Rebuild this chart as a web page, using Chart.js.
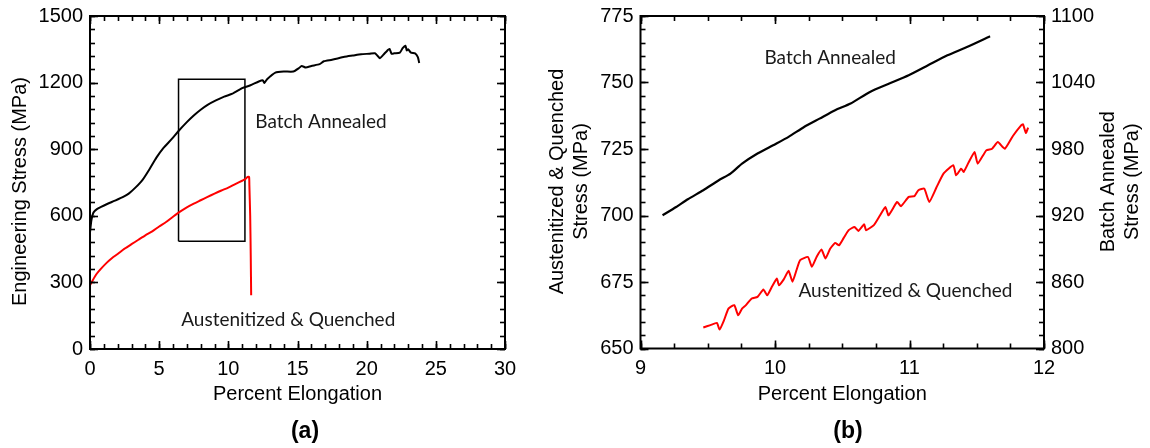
<!DOCTYPE html>
<html>
<head>
<meta charset="utf-8">
<script src="https://cdn.jsdelivr.net/npm/chart.js@4.4.1/dist/chart.umd.min.js"></script>
<style>
  body { margin: 0; background: #fff; width: 1150px; height: 448px; overflow: hidden; position: relative; }
  canvas { position: absolute; top: 0; }
  #chartA { left: 0; }
  #chartB { left: 540px; }
  .panel { position: absolute; top: 430px; transform: translate(-50%, -50%); font: bold 23px "Liberation Sans", Arial, sans-serif; color: #000; }
</style>
</head>
<body>
<canvas id="chartA" width="540" height="448"></canvas>
<canvas id="chartB" width="610" height="448"></canvas>
<div class="panel" style="left: 305px;">(a)</div>
<div class="panel" style="left: 848px;">(b)</div>
<script>
'use strict';

// ---- panel (a): full curves ----
let baStrainA = [0, 0.1, 0.25, 0.5, 0.8, 1.2, 1.8, 2.4, 2.8, 3.3, 3.8, 4.3, 4.8, 5.3, 5.9, 6.4, 7.0, 7.5, 8.0, 8.5,
  9.1, 9.7, 10.3, 11.0, 11.6, 12.2, 12.5, 12.6, 12.8, 13.4, 14.0, 14.7, 15.1, 15.3, 15.6, 16.0, 16.6, 16.9, 17.5,
  18.4, 19.0, 19.6, 20.2, 20.6, 20.8, 20.95, 21.2, 21.5, 21.65, 21.8, 22.0, 22.4, 22.6, 22.8, 22.9, 23.0, 23.2,
  23.5, 23.7, 23.8];
let baStressA = [525, 580, 615, 630, 640, 652, 668, 685, 700, 728, 762, 810, 862, 905, 945, 982, 1022, 1052, 1078, 1100,
  1120, 1137, 1150, 1175, 1188, 1205, 1210, 1198, 1215, 1245, 1250, 1250, 1265, 1275, 1268, 1275, 1283, 1296, 1303,
  1316, 1322, 1328, 1330, 1332, 1320, 1310, 1325, 1345, 1352, 1330, 1332, 1335, 1355, 1366, 1345, 1350, 1335,
  1332, 1315, 1288];

let aqStrainA = [0, 0.2, 0.5, 0.8, 1.2, 1.6, 2.0, 2.5, 3.0, 3.5, 4.0, 4.5, 5.0, 5.5, 6.0, 6.4, 7.0, 7.5, 8.0, 8.5,
  9.0, 9.5, 10.0, 10.5, 11.0, 11.2, 11.4, 11.5, 11.52, 11.58, 11.62, 11.65];
let aqStressA = [287, 310, 340, 362, 388, 410, 428, 452, 472, 492, 512, 530, 552, 572, 596, 614, 638, 655, 670, 685,
  700, 714, 727, 743, 758, 764, 775, 775, 740, 600, 420, 242];

// zoom window marked on panel (a)
let boxStrain = [6.4, 6.4, 11.2, 11.2, 6.4];
let boxStress = [485, 1215, 1215, 485, 485];

let xTicksA = [0, 5, 10, 15, 20, 25, 30];
let yTicksA = [0, 300, 600, 900, 1200, 1500];

// ---- panel (b): zoomed region, two stress axes ----
let baStrainB = [9.164, 9.265, 9.352, 9.467, 9.582, 9.669, 9.755, 9.870, 9.986, 10.101, 10.216, 10.331, 10.447,
  10.562, 10.706, 10.850, 10.994, 11.138, 11.282, 11.427, 11.599];
let baStressB = [920.2, 927.7, 934.7, 942.8, 951.8, 957.8, 966.8, 975.9, 983.4, 990.9, 999.9, 1007.4, 1015.0,
  1021.0, 1031.5, 1039.0, 1046.5, 1055.5, 1064.5, 1072.0, 1081.7];

let aqStrainB = [9.467, 9.52, 9.568, 9.588, 9.62, 9.654, 9.697, 9.726, 9.755, 9.784, 9.827, 9.870, 9.914, 9.942,
  9.98, 10.014, 10.029, 10.065, 10.101, 10.130, 10.16, 10.187, 10.245, 10.274, 10.31, 10.346, 10.375, 10.41,
  10.447, 10.476, 10.51, 10.548, 10.591, 10.620, 10.663, 10.677, 10.735, 10.78, 10.821, 10.844, 10.908, 10.937,
  10.994, 11.037, 11.066, 11.110, 11.147, 11.20, 11.254, 11.326, 11.346, 11.384, 11.403, 11.44, 11.484, 11.507,
  11.571, 11.614, 11.657, 11.709, 11.77, 11.830, 11.844, 11.865, 11.882];
let aqStressB = [657.9, 658.8, 659.6, 657.1, 660.5, 665.0, 666.3, 662.5, 665.0, 666.3, 668.8, 669.4, 672.2, 670.0,
  673.5, 676.3, 673.8, 676.0, 679.2, 675.1, 679.5, 683.2, 684.4, 680.7, 684.5, 687.2, 683.8, 687.5,
  689.7, 688.8, 691.5, 694.5, 695.7, 694.2, 696.7, 694.5, 696.4, 700.0, 703.2, 700.1, 705.1, 703.5,
  707.0, 707.3, 709.5, 710.1, 705.1, 710.5, 715.8, 718.9, 715.1, 717.6, 716.4, 720.0, 723.9, 719.5,
  724.5, 725.1, 727.6, 725.1, 730.0, 733.9, 734.3, 731.0, 733.0];

let xTicksB = [9, 10, 11, 12];
let yTicksB = [650, 675, 700, 725, 750, 775];
let y1TicksB = [800, 860, 920, 980, 1040, 1100];

const axisFont = '"Liberation Sans", Arial, sans-serif';
const noteFont = '19px Lato, "Open Sans", sans-serif';

Chart.defaults.font.family = axisFont;
Chart.defaults.font.size = 20;
Chart.defaults.color = '#000';

function pts(xs, ys) {
  return xs.map((x, i) => ({ x: x, y: ys[i] }));
}

function steps(min, max, step) {
  let out = [];
  let n = Math.round((max - min) / step);
  for (let i = 0; i <= n; i++) out.push(min + i * step);
  return out;
}

function tickLine(ctx, x1, y1, x2, y2) {
  ctx.beginPath();
  ctx.moveTo(x1, y1);
  ctx.lineTo(x2, y2);
  ctx.stroke();
}

// frame and inward ticks
function framePlugin(cfg) {
  return {
    id: 'frame' + cfg.name,
    afterDraw(chart) {
      const ctx = chart.ctx;
      const a = chart.chartArea;
      ctx.save();
      ctx.strokeStyle = '#000';
      ctx.lineWidth = 2;
      ctx.strokeRect(a.left, a.top, a.right - a.left, a.bottom - a.top);
      ctx.lineWidth = 1.6;
      cfg.marks.forEach(t => {
        const scale = chart.scales[t.axis];
        t.values.forEach(v => {
          const p = Math.round(scale.getPixelForValue(v)) + 0.5;
          t.sides.forEach(side => {
            if (side === 'bottom') tickLine(ctx, p, a.bottom, p, a.bottom - t.len);
            if (side === 'top') tickLine(ctx, p, a.top, p, a.top + t.len);
            if (side === 'left') tickLine(ctx, a.left, p, a.left + t.len, p);
            if (side === 'right') tickLine(ctx, a.right, p, a.right - t.len, p);
          });
        });
      });
      ctx.restore();
    }
  };
}

// in-plot notes and vertical axis titles
function textPlugin(cfg) {
  return {
    id: 'text' + cfg.name,
    afterDraw(chart) {
      const ctx = chart.ctx;
      ctx.save();
      ctx.fillStyle = '#1a1a1a';
      ctx.font = noteFont;
      ctx.textAlign = 'center';
      ctx.textBaseline = 'middle';
      cfg.notes.forEach(n => {
        ctx.fillText(n.text, chart.scales.x.getPixelForValue(n.x), chart.scales[n.axis].getPixelForValue(n.y));
      });
      ctx.fillStyle = '#000';
      ctx.font = '20px ' + axisFont;
      cfg.titles.forEach(t => {
        ctx.save();
        ctx.translate(t.x, t.y);
        ctx.rotate(-Math.PI / 2);
        ctx.fillText(t.text, 0, 0);
        ctx.restore();
      });
      ctx.restore();
    }
  };
}

function fixedTicks(list) {
  return s => { s.ticks = list.map(v => ({ value: v })); };
}

function fitY(width) {
  return s => { s.width = width; s.paddingTop = 16; s.paddingBottom = 16; };
}

const plainGrid = { display: false, drawTicks: false };
const plainLabel = v => String(v);

new Chart(document.getElementById('chartA'), {
  type: 'line',
  data: {
    datasets: [
      { label: 'Batch Annealed', data: pts(baStrainA, baStressA), borderColor: '#000', borderWidth: 2, pointRadius: 0, tension: 0.2 },
      { label: 'Austenitized & Quenched', data: pts(aqStrainA, aqStressA), borderColor: '#ff0000', borderWidth: 2, pointRadius: 0, tension: 0.2 },
      { label: 'window', data: pts(boxStrain, boxStress), borderColor: '#000', borderWidth: 1.5, pointRadius: 0, tension: 0 }
    ]
  },
  options: {
    responsive: false,
    animation: false,
    devicePixelRatio: 1,
    layout: { padding: { top: 16, right: 35, left: 0, bottom: 0 } },
    plugins: { legend: { display: false }, tooltip: { enabled: false } },
    scales: {
      x: {
        type: 'linear', min: 0, max: 30,
        afterBuildTicks: fixedTicks(xTicksA),
        afterFit: s => { s.height = 99; },
        ticks: { padding: 8, autoSkip: false, maxRotation: 0, callback: plainLabel },
        grid: plainGrid, border: { display: false },
        title: { display: true, text: 'Percent Elongation', padding: { top: 0, bottom: 42 } }
      },
      y: {
        type: 'linear', min: 0, max: 1500,
        afterBuildTicks: fixedTicks(yTicksA),
        afterFit: fitY(90),
        ticks: { padding: 7, autoSkip: false, callback: plainLabel },
        grid: plainGrid, border: { display: false }
      }
    }
  },
  plugins: [
    framePlugin({
      name: 'A',
      marks: [
        { axis: 'x', values: steps(0, 30, 1), len: 5, sides: ['bottom', 'top'] },
        { axis: 'x', values: xTicksA, len: 8, sides: ['bottom', 'top'] },
        { axis: 'y', values: steps(0, 1500, 60), len: 5, sides: ['left', 'right'] },
        { axis: 'y', values: yTicksA, len: 8, sides: ['left', 'right'] }
      ]
    }),
    textPlugin({
      name: 'A',
      notes: [
        { text: 'Batch Annealed', x: 16.7, y: 1025, axis: 'y' },
        { text: 'Austenitized & Quenched', x: 14.33, y: 133, axis: 'y' }
      ],
      titles: [
        { text: 'Engineering Stress (MPa)', x: 20.5, y: 191.5 }
      ]
    })
  ]
});

new Chart(document.getElementById('chartB'), {
  type: 'line',
  data: {
    datasets: [
      { label: 'Batch Annealed', data: pts(baStrainB, baStressB), yAxisID: 'y1', borderColor: '#000', borderWidth: 2.2, pointRadius: 0, tension: 0.2 },
      { label: 'Austenitized & Quenched', data: pts(aqStrainB, aqStressB), yAxisID: 'y', borderColor: '#ff0000', borderWidth: 2, pointRadius: 0, tension: 0.15 }
    ]
  },
  options: {
    responsive: false,
    animation: false,
    devicePixelRatio: 1,
    layout: { padding: { top: 16, right: 0, left: 0, bottom: 0 } },
    plugins: { legend: { display: false }, tooltip: { enabled: false } },
    scales: {
      x: {
        type: 'linear', min: 9, max: 12,
        afterBuildTicks: fixedTicks(xTicksB),
        afterFit: s => { s.height = 99.5; },
        ticks: { padding: 8, autoSkip: false, maxRotation: 0, callback: plainLabel },
        grid: plainGrid, border: { display: false },
        title: { display: true, text: 'Percent Elongation', padding: { top: 0, bottom: 42 } }
      },
      y: {
        type: 'linear', position: 'left', min: 650, max: 775,
        afterBuildTicks: fixedTicks(yTicksB),
        afterFit: fitY(100.5),
        ticks: { padding: 7, autoSkip: false, callback: plainLabel },
        grid: plainGrid, border: { display: false }
      },
      y1: {
        type: 'linear', position: 'right', min: 800, max: 1100,
        afterBuildTicks: fixedTicks(y1TicksB),
        afterFit: fitY(106),
        ticks: { padding: 7, autoSkip: false, callback: plainLabel },
        grid: plainGrid, border: { display: false }
      }
    }
  },
  plugins: [
    framePlugin({
      name: 'B',
      marks: [
        { axis: 'x', values: steps(9, 12, 0.25), len: 5, sides: ['bottom', 'top'] },
        { axis: 'x', values: xTicksB, len: 8, sides: ['bottom', 'top'] },
        { axis: 'y', values: steps(650, 775, 5), len: 5, sides: ['left'] },
        { axis: 'y', values: yTicksB, len: 8, sides: ['left'] },
        { axis: 'y1', values: steps(800, 1100, 12), len: 5, sides: ['right'] },
        { axis: 'y1', values: y1TicksB, len: 8, sides: ['right'] }
      ]
    }),
    textPlugin({
      name: 'B',
      notes: [
        { text: 'Batch Annealed', x: 10.41, y: 759.3, axis: 'y' },
        { text: 'Austenitized & Quenched', x: 10.97, y: 671.5, axis: 'y' }
      ],
      titles: [
        { text: 'Austenitized & Quenched', x: 17.8, y: 181.5 },
        { text: 'Stress (MPa)', x: 41, y: 181.5 },
        { text: 'Batch Annealed', x: 568.9, y: 181.7 },
        { text: 'Stress (MPa)', x: 592, y: 181.7 }
      ]
    })
  ]
});
</script>
</body>
</html>
